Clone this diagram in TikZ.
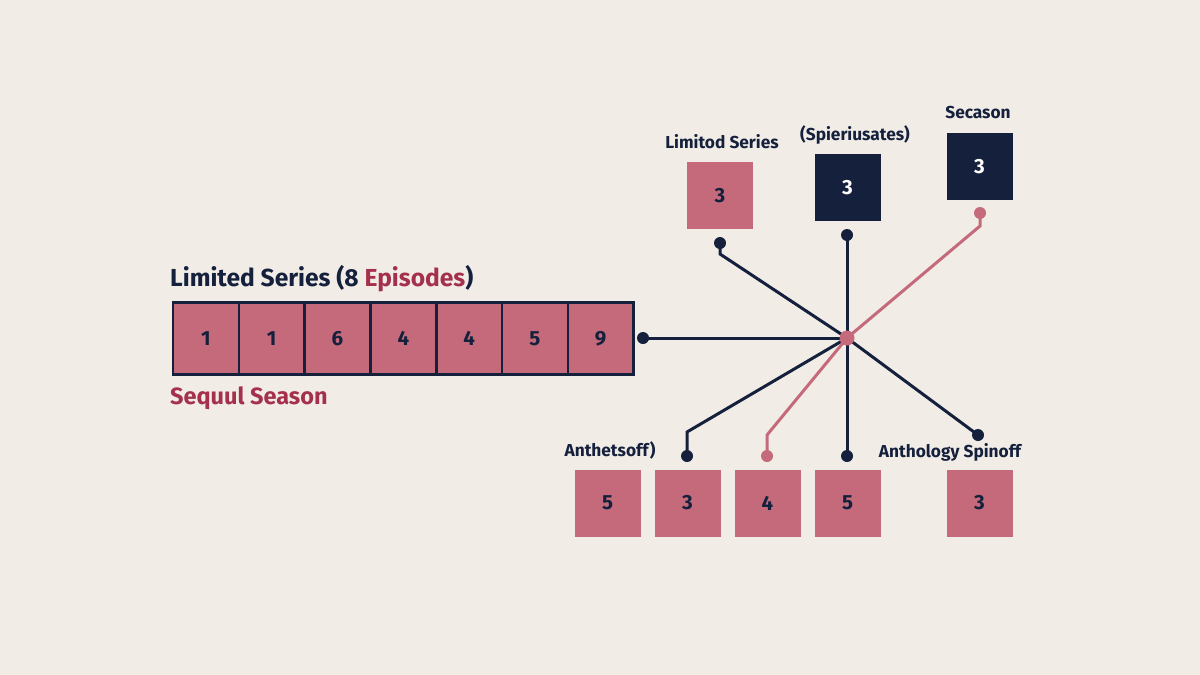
\documentclass[tikz,border=0pt]{standalone}
\usepackage{fontspec}
\setmainfont{Fira Sans}
\definecolor{bg}{HTML}{F1EDE6}
\definecolor{pinkf}{HTML}{C46A7B}
\definecolor{navy}{HTML}{15203D}
\definecolor{crim}{HTML}{A5304D}
\tikzset{
  cell/.style={draw=navy, line width=2.6pt, fill=pinkf, minimum width=65.8pt, minimum height=72pt, inner sep=0pt, font=\fontsize{20.5}{20}\selectfont\bfseries, text=navy},
  pbox/.style={fill=pinkf, minimum width=66pt, minimum height=67pt, inner sep=0pt, font=\fontsize{20.5}{20}\selectfont\bfseries, text=navy},
  nbox/.style={fill=navy, minimum width=66pt, minimum height=67pt, inner sep=0pt, font=\fontsize{20.5}{20}\selectfont\bfseries, text=white},
  lbl/.style={font=\fontsize{17.3}{17}\selectfont\bfseries, text=navy, inner sep=0pt},
  ndot/.style={circle, fill=navy, minimum size=12pt, inner sep=0pt},
  pdot/.style={circle, fill=pinkf, minimum size=12pt, inner sep=0pt},
  nline/.style={draw=navy, line width=3pt},
  pline/.style={draw=pinkf, line width=3pt},
}
\begin{document}
\begin{tikzpicture}[x=1pt,y=-1pt]
\fill[bg] (0,0) rectangle (1200,675);
\useasboundingbox (0,0) rectangle (1200,675);
% episode strip
\foreach \v [count=\i] in {1,1,6,4,4,5,9} {
  \node[cell] (c\i) at ({173+65.8*(\i-0.5)},338.5) {\v};
}
\node[anchor=west, font=\fontsize{24.6}{24}\selectfont\bfseries, text=navy, inner sep=0pt] (title) at (170,279) {Limited Series (8 \textcolor{crim}{Episodes})};
\node[anchor=west, font=\fontsize{23.5}{23}\selectfont\bfseries, text=crim, inner sep=0pt] (seq) at (170,398) {Sequul Season};
% hub
\coordinate (hub) at (847,338);
% top boxes
\node[pbox] (t1) at (720,195.5) {3};
\node[nbox] (t2) at (847.5,187.5) {3};
\node[nbox] (t3) at (979.5,166.5) {3};
\node[lbl] (lt1) at (722,142) {Limitod Series};
\node[lbl] (lt2) at (855,135) {(Spieriusates)};
\node[lbl] (lt3) at (978,113) {Secason};
% bottom boxes
\node[pbox] (b1) at (607.5,503) {5};
\node[pbox] (b2) at (687.5,503) {3};
\node[pbox] (b3) at (767.5,503) {4};
\node[pbox] (b4) at (847.5,503) {5};
\node[pbox] (b5) at (979.5,503) {3};
\node[lbl] (lb1) at (610,450) {Anthetsoff)};
\node[lbl] (lb5) at (950,452) {Anthology Spinoff};
% dots
\node[ndot] (dl) at (643,338) {};
\node[ndot] (d1) at (720,243) {};
\node[ndot] (d2) at (847,235) {};
\node[pdot] (d3) at (980,213) {};
\node[ndot] (e1) at (687,456) {};
\node[pdot] (e2) at (767,456) {};
\node[ndot] (e3) at (847,456) {};
\node[ndot] (e4) at (978,435) {};
% lines
\draw[nline] (dl.center) -- (hub);
\draw[nline] (d1.center) -- (720,254) -- (hub);
\draw[nline] (d2.center) -- (hub);
\draw[nline] (e1.center) -- (687,432) -- (hub);
\draw[nline] (e3.center) -- (hub);
\draw[nline] (e4.center) -- (hub);
\draw[pline] (d3.center) -- (980,226) -- (hub);
\draw[pline] (e2.center) -- (767,435) -- (hub);
\node[pdot, minimum size=15pt] (hubdot) at (hub) {};
\end{tikzpicture}
\end{document}
